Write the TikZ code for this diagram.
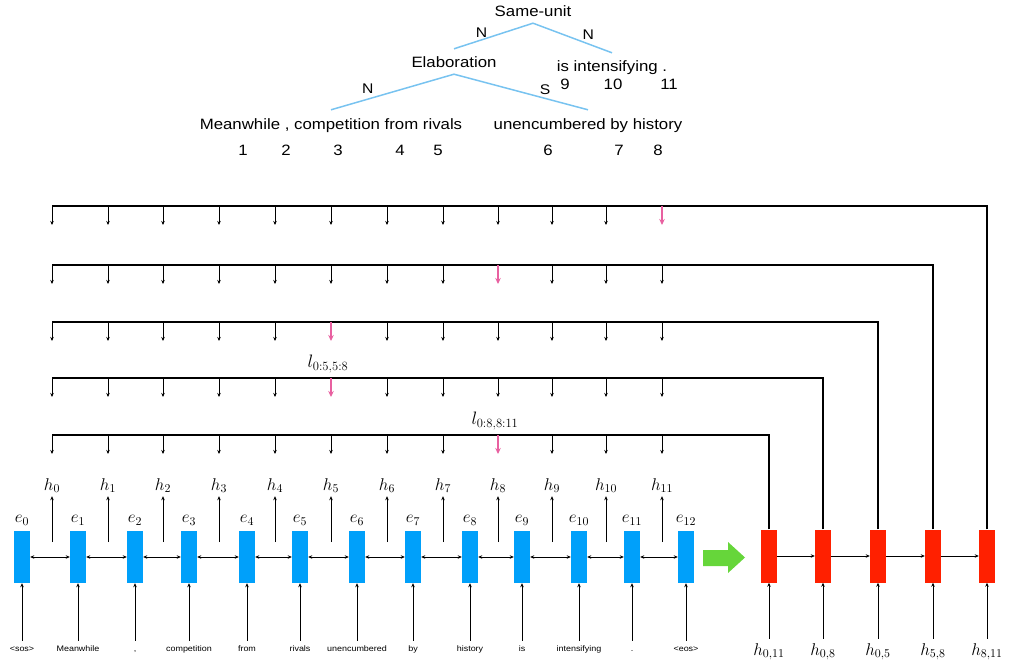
\RequirePackage{fix-cm}
\documentclass[tikz,border=0pt]{standalone}
\usepackage[no-math]{fontspec}
\setmainfont{Liberation Sans}[FakeStretch=1.12]
\usetikzlibrary{arrows.meta}
\definecolor{encblue}{RGB}{0,160,250}
\definecolor{decred}{RGB}{255,32,0}
\definecolor{treeblue}{RGB}{120,195,240}
\definecolor{hipink}{RGB}{232,96,160}
\definecolor{gogreen}{RGB}{102,214,58}
\begin{document}
\begin{tikzpicture}[x=1pt, y=-1pt,
    enc/.style = {fill=encblue, minimum width=16pt, minimum height=52pt, inner sep=0pt},
    dec/.style = {fill=decred, minimum width=16pt, minimum height=53pt, inner sep=0pt},
    word/.style = {font=\fontsize{8}{10}\selectfont, text height=6pt, text depth=2pt, inner sep=4pt},
    hlab/.style = {font=\fontsize{17}{20}\selectfont, text height=11pt, text depth=4pt, inner sep=2pt},
    txt/.style = {font=\fontsize{15}{18}\selectfont, text height=11pt, text depth=3pt, inner sep=3pt},
    edgl/.style = {font=\fontsize{14}{16}\selectfont, inner sep=1pt},
    tree/.style = {draw=treeblue, line width=1.5pt},
    lo/.style = {-{Stealth[length=4pt,width=3.5pt]}, line width=1pt},
    hi/.style = {-{Stealth[length=6pt,width=5.5pt]}, line width=1.8pt, draw=hipink},
    both/.style = {{Stealth[length=4pt,width=3.5pt]}-{Stealth[length=4pt,width=3.5pt]}, line width=1pt}]
    \useasboundingbox (0,0) rectangle (1013,666);

    % discourse tree
    \node[txt] (su) at (533,13) {Same-unit};
    \node[txt] (el) at (454,64) {Elaboration};
    \node[txt] (ri) at (612,68) {is intensifying .};
    \node[txt] (le) at (331,126) {Meanwhile , competition from rivals};
    \node[txt] (mi) at (588,126) {unencumbered by history};
    \draw[tree] (su.south) -- node[pos=.65, above=1pt, edgl] {N} ([yshift=5pt]el.north);
    \draw[tree] (su.south) -- node[pos=.7, above=3pt, edgl] {N} ([yshift=5pt]ri.north);
    \draw[tree] (el.south) -- node[pos=.7, above=4pt, edgl] {N} ([yshift=6pt]le.north);
    \draw[tree] (el.south) -- node[pos=.68, above=2pt, edgl] {S} ([yshift=6pt]mi.north);
    \foreach \n/\x/\y in {1/243/152, 2/286/152, 3/338/152, 4/400/152, 5/438/152,
                          6/548/152, 7/619/152, 8/658/152, 9/565/86, 10/613/86, 11/669/86}
        \node[txt] (n\n) at (\x,\y) {\n};

    % encoder
    \coordinate (base) at (0,649);
    \foreach \x [count=\i from 0] in {22,78,135,189,247,300,357,413,470,522,579,632,686}
        \node[enc, label={[hlab, label distance=2pt]above:$e_{\i}$}] (e\i) at (\x,557) {};
    \foreach \w [count=\i from 0] in {<sos>, Meanwhile, {,}, competition, from, rivals,
                                      unencumbered, by, history, is, intensifying, ., <eos>} {
        \node[word] (w\i) at (e\i |- base) {\w};
        \draw[lo] (w\i.north) -- (e\i.south);
    }
    \foreach \i in {1,...,12} {
        \pgfmathtruncatemacro\j{\i-1}
        \draw[both] (e\j.east) -- (e\i.west);
    }
    \foreach \x [count=\i from 0] in {52,108,163,219,275,331,387,443,498,552,606,662} {
        \coordinate (o\i) at (\x,542);
        \node[hlab] (h\i) at (\x,486.5) {$h_{\i}$};
        \draw[lo] (o\i) -- (h\i.south);
    }

    % arrow to decoder
    \fill[gogreen] (703,550) -- (728,550) -- (728,542) -- (745,557.5) -- (728,573)
        -- (728,566) -- (703,566) -- cycle;

    % decoder
    \foreach \x/\lab [count=\i] in {769/{0,11}, 823/{0,8}, 878/{0,5}, 933/{5,8}, 987/{8,11}} {
        \node[dec] (r\i) at (\x,556) {};
        \node[hlab, inner ysep=5pt] (d\i) at (\x,651.5) {$h_{\lab}$};
        \draw[lo] (d\i.north) -- (r\i.south);
    }
    \foreach \i in {1,...,4} {
        \pgfmathtruncatemacro\j{\i+1}
        \draw[lo] (r\i.east) -- (r\j.west);
    }

    % span rows
    \foreach \k/\yy/\p/\t in {1/206/11/5, 2/265/8/4, 3/322/5/3, 4/378/5/2, 5/435/8/1} {
        \coordinate (row\k) at (52,\yy);
        \draw[line width=1.3pt] (r\t.north) |- (row\k);
        \foreach \x [count=\i from 0] in {52,108,163,219,275,331,387,443,498,552,606,662} {
            \ifnum\i=\p\relax \def\st{hi}\else \def\st{lo}\fi
            \draw[\st] (\x,\yy) -- ++(0,19);
        }
    }
    \node[hlab, font=\fontsize{18}{21}\selectfont] (la) at (328,364) {$l_{0{:}5,5{:}8}$};
    \node[hlab, font=\fontsize{18}{21}\selectfont] (lb) at (495,421) {$l_{0{:}8,8{:}11}$};
\end{tikzpicture}
\end{document}
